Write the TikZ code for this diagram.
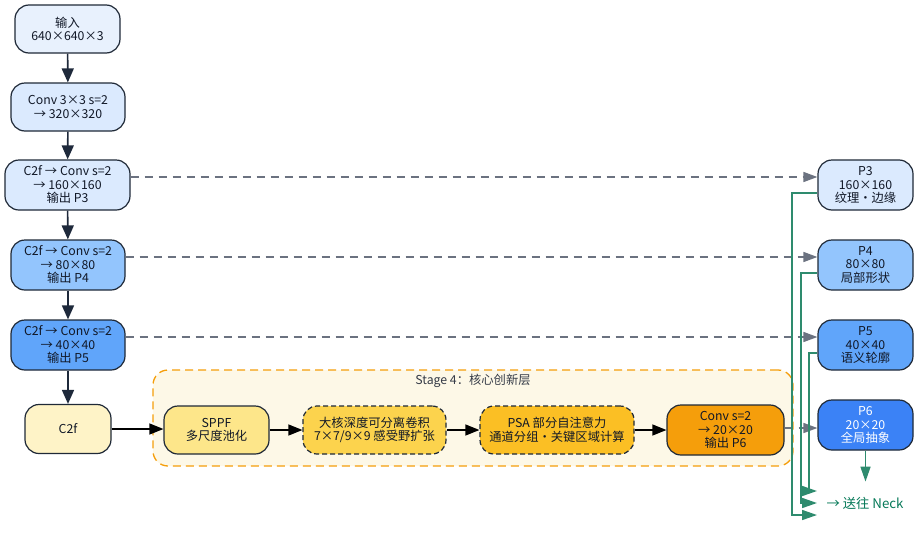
\documentclass[tikz,border=0pt]{standalone}
\usepackage{fontspec}
\setmainfont{Noto Sans CJK SC}
\usetikzlibrary{arrows.meta,calc}
\definecolor{edge}{HTML}{1F2937}
\definecolor{txt}{HTML}{111827}
\definecolor{cin}{HTML}{E8F1FD}
\definecolor{cb1}{HTML}{DBEAFE}
\definecolor{cb2}{HTML}{93C5FD}
\definecolor{cb3}{HTML}{60A5FA}
\definecolor{cb4}{HTML}{3B82F6}
\definecolor{cy1}{HTML}{FEF3C7}
\definecolor{cy2}{HTML}{FDE68A}
\definecolor{cy3}{HTML}{FCD34D}
\definecolor{cy4}{HTML}{FBBF24}
\definecolor{cy5}{HTML}{F59E0B}
\definecolor{stagefill}{HTML}{FDF8E7}
\definecolor{stageedge}{HTML}{F59E0B}
\definecolor{flow}{HTML}{1E293B}
\definecolor{dgray}{HTML}{6B7280}
\definecolor{grn}{HTML}{2E8B6E}
\definecolor{grntxt}{HTML}{047857}
\begin{document}
\begin{tikzpicture}[x=1pt,y=-1pt,
  box/.style={draw=edge, line width=1.2pt, rounded corners=14pt, align=center,
    font=\fontsize{12.3}{13.5}\selectfont, text=txt, inner sep=0pt},
  dbox/.style={box, dashed, dash pattern=on 5pt off 3pt},
  flowarrow/.style={draw=flow, line width=1.6pt, -{Triangle[length=14pt,width=12pt]}},
  blackarrow/.style={draw=black, line width=1.2pt, -{Triangle[length=14pt,width=11pt]}},
  grayarrow/.style={draw=dgray, line width=1.5pt, dash pattern=on 8pt off 6pt, -{Triangle[length=14pt,width=10pt]}},
  greenline/.style={draw=grn, line width=1.6pt, -{Triangle[length=15pt,width=10pt]}},
]
\useasboundingbox (0,0) rectangle (920,533);

% stage box
\node[draw=stageedge, fill=stagefill, line width=1.3pt, dash pattern=on 8pt off 5pt,
  rounded corners=15pt, minimum width=640pt, minimum height=96pt, inner sep=0pt] (stage) at (473,418) {};
\node[font=\fontsize{12.3}{13.5}\selectfont, text=txt!85] (stagelbl) at (473,381) {Stage 4：核心创新层};

% backbone
\node[box, fill=cin, minimum width=105pt, minimum height=48pt] (in) at (67.5,29) {输入\\640×640×3};
\node[box, fill=cb1, minimum width=114pt, minimum height=48pt] (c1) at (68,107) {Conv 3×3 s=2\\→ 320×320};
\node[box, fill=cb1, minimum width=125pt, minimum height=50pt] (b3) at (67.5,185) {C2f → Conv s=2\\→ 160×160\\输出 P3};
\node[box, fill=cb2, minimum width=114pt, minimum height=50pt] (b4) at (68,265) {C2f → Conv s=2\\→ 80×80\\输出 P4};
\node[box, fill=cb3, minimum width=114pt, minimum height=50pt] (b5) at (68,345) {C2f → Conv s=2\\→ 40×40\\输出 P5};
\node[box, fill=cy1, minimum width=86pt, minimum height=49pt] (c2f) at (68,429) {C2f};

% stage 4 nodes
\node[box, fill=cy2, minimum width=105pt, minimum height=48pt] (sppf) at (216.5,430) {SPPF\\多尺度池化};
\node[dbox, fill=cy3, minimum width=143pt, minimum height=48pt] (lk) at (374.5,430) {大核深度可分离卷积\\7×7/9×9 感受野扩张};
\node[dbox, fill=cy4, minimum width=154pt, minimum height=48pt] (psa) at (557,430) {PSA 部分自注意力\\通道分组・关键区域计算};
\node[box, fill=cy5, minimum width=117pt, minimum height=50pt] (cv) at (725.5,430) {Conv s=2\\→ 20×20\\输出 P6};

% outputs
\node[box, fill=cb1, minimum width=95pt, minimum height=50pt] (p3) at (865.5,185) {P3\\160×160\\纹理・边缘};
\node[box, fill=cb2, minimum width=95pt, minimum height=50pt] (p4) at (865.5,265) {P4\\80×80\\局部形状};
\node[box, fill=cb3, minimum width=95pt, minimum height=50pt] (p5) at (865.5,345) {P5\\40×40\\语义轮廓};
\node[box, fill=cb4, text=white, minimum width=95pt, minimum height=50pt] (p6) at (865.5,425) {P6\\20×20\\全局抽象};

\node[font=\fontsize{13.3}{14}\selectfont, text=grntxt] (neck) at (865,503) {→ 送往 Neck};

% backbone arrows
\draw[flowarrow] (in) -- (c1);
\draw[flowarrow] (c1) -- (b3);
\draw[flowarrow] (b3) -- (b4);
\draw[flowarrow] (b4) -- (b5);
\draw[flowarrow] (b5) -- (c2f);

% stage flow
\draw[blackarrow] (c2f.east) -- (c2f.east -| sppf.west);
\draw[blackarrow] (sppf) -- (lk);
\draw[blackarrow] (lk) -- (psa);
\draw[blackarrow] (psa) -- (cv);

% dashed outputs
\draw[grayarrow] ($(b3.east)+(0,-8)$) -- ($(p3.west)+(0,-8)$);
\draw[grayarrow] ($(b4.east)+(0,-8)$) -- ($(p4.west)+(0,-8)$);
\draw[grayarrow] ($(b5.east)+(0,-8)$) -- ($(p5.west)+(0,-8)$);
\draw[grayarrow] ($(cv.east)+(0,-2)$) -- ($(p6.west)+(0,3)$);

% green to neck
\coordinate (n3) at (817,515);
\coordinate (n4) at (817,503);
\coordinate (n5) at (817,491);
\draw[greenline] ($(p3.west)+(0,8)$) -| (792,515) -- (n3);
\draw[greenline] ($(p4.west)+(0,8)$) -| (801,503) -- (n4);
\draw[greenline] ($(p5.west)+(0,8)$) -| (809,491) -- (n5);
\draw[greenline] (p6.south) -- ++(0,31);
\end{tikzpicture}
\end{document}
